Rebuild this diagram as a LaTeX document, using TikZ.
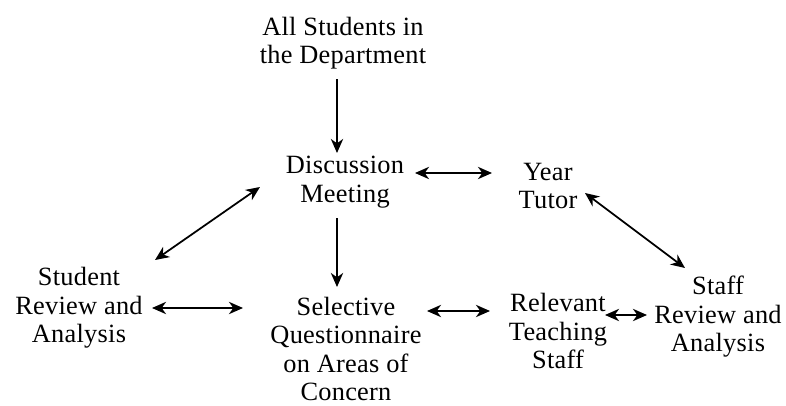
\documentclass[tikz,border=0pt]{standalone}
\usepackage{fontspec}
\setmainfont{Liberation Serif}[LetterSpace=1]
\usetikzlibrary{arrows.meta}

\tikzset{
  box/.style={align=center, inner sep=0pt, font=\fontsize{15}{16.2}\selectfont},
  link/.style={line width=1pt, -{Stealth[length=8pt,width=7pt,inset=2.5pt]}},
  twoway/.style={line width=1pt, {Stealth[length=8pt,width=7pt,inset=2.5pt]}-{Stealth[length=8pt,width=7pt,inset=2.5pt]}}
}

\begin{document}
\begin{tikzpicture}
  \useasboundingbox (0,0) rectangle (15.72,8.1);
  % nodes (1cm = 50px of the figure)
  \node[box] (all) at (6.86,7.24) {All Students in\\the Department};
  \node[box] (disc) at (6.9,4.46) {Discussion\\Meeting};
  \node[box] (year) at (10.96,4.38) {Year\\Tutor};
  \node[box] (student) at (1.58,1.94) {Student\\Review and\\Analysis};
  \node[box] (select) at (6.92,1.12) {Selective\\Questionnaire\\on Areas of\\Concern};
  \node[box] (rel) at (11.16,1.48) {Relevant\\Teaching\\Staff};
  \node[box] (staff) at (14.36,1.76) {Staff\\Review and\\Analysis};
  % one-way arrows
  \draw[link] ([shift={(-0.12,-0.72)}]all.center) -- ([shift={(-0.16,0.58)}]disc.center);
  \draw[link] ([shift={(-0.16,-0.72)}]disc.center) -- ([shift={(-0.18,1.24)}]select.center);
  % two-way arrows
  \draw[twoway] ([shift={(1.4,0.18)}]disc.center) -- ([shift={(-1.12,0.26)}]year.center);
  \draw[twoway] ([shift={(1.52,0.96)}]student.center) -- ([shift={(-1.7,-0.1)}]disc.center);
  \draw[twoway] ([shift={(1.46,0)}]student.center) -- ([shift={(-2.06,0.82)}]select.center);
  \draw[twoway] ([shift={(1.62,0.76)}]select.center) -- ([shift={(-1.36,0.4)}]rel.center);
  \draw[twoway] ([shift={(0.94,0.32)}]rel.center) -- ([shift={(-1.42,0.04)}]staff.center);
  \draw[twoway] ([shift={(0.74,-0.14)}]year.center) -- ([shift={(-0.66,0.98)}]staff.center);
\end{tikzpicture}
\end{document}
